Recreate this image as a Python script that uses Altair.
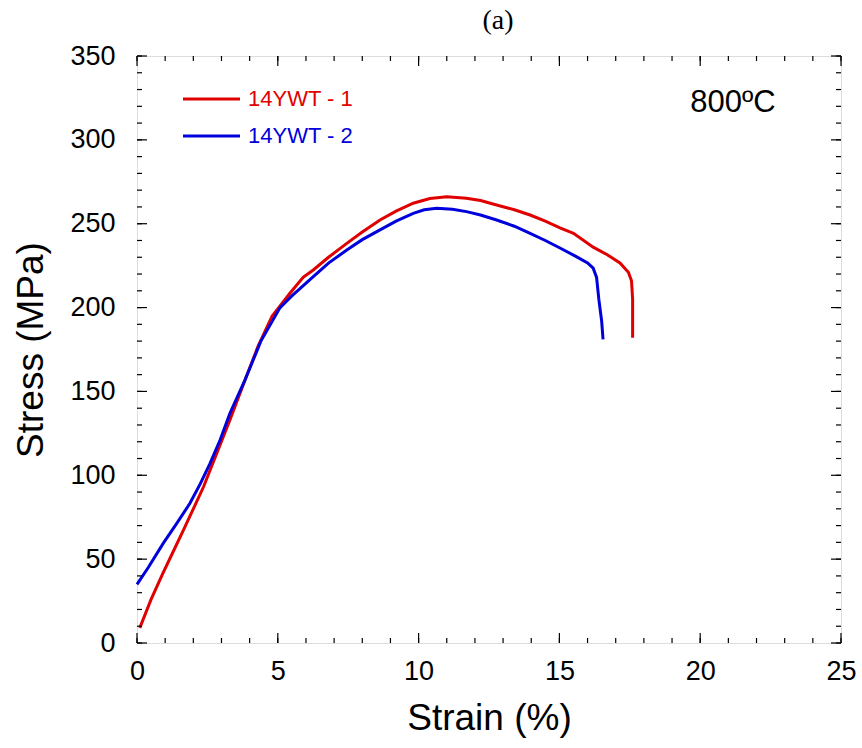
import altair as alt
import pandas as pd

# ---------------- data ----------------
series_names = ["14YWT - 1", "14YWT - 2"]
series_colors = ["#e00000", "#0000dc"]

red_strain = [0.10, 0.50, 0.93, 1.30, 1.64, 2.00, 2.36, 2.83, 3.30, 3.84, 4.30, 4.80,
              5.43, 5.90, 6.26, 6.80, 7.45, 8.00, 8.63, 9.20, 9.81, 10.40, 11.00,
              11.70, 12.20, 12.77, 13.40, 13.96, 14.50, 15.02, 15.50, 16.20, 16.70,
              17.15, 17.45, 17.56, 17.60, 17.60]
red_stress = [9, 26, 42, 55, 67, 80, 93, 113, 133, 157, 177, 195,
              208.5, 218, 222.4, 230, 238.3, 245, 252.2, 257.5, 262.2, 265, 266.1,
              265.2, 263.8, 261.2, 258.3, 255.2, 251.5, 247.5, 244.3, 236, 231.5,
              226.6, 221, 216, 205, 182]

blue_strain = [0.00, 0.40, 0.93, 1.40, 1.88, 2.25, 2.59, 2.95, 3.30, 3.84, 4.40, 5.08,
               5.50, 6.26, 6.80, 7.45, 8.00, 8.63, 9.20, 9.81, 10.20, 10.64, 11.20,
               11.70, 12.20, 12.77, 13.40, 13.96, 14.50, 15.02, 15.60, 16.00, 16.20,
               16.32, 16.40, 16.50, 16.55]
blue_stress = [35, 45, 59.4, 71, 83.3, 95, 107, 121, 137, 157, 180, 200,
               207, 218.4, 226.5, 234.3, 240.5, 246.3, 251.5, 256.2, 258.3, 259.2, 258.6,
               257.2, 255.2, 252.2, 248.5, 244.3, 240, 235.5, 230.4, 226.6, 223.5,
               218, 205, 192, 181]

x_major = [0, 5, 10, 15, 20, 25]
y_major = [0, 50, 100, 150, 200, 250, 300, 350]
x_minor = list(range(0, 26))
y_minor = list(range(0, 351, 10))

x_title = "Strain (%)"
y_title = "Stress (MPa)"
panel_label = "(a)"
temp_label = "800ºC"

rows = []
for i, (sx, sy) in enumerate(zip(red_strain, red_stress)):
    rows.append({"series": series_names[0], "strain": sx, "stress": sy, "idx": i})
for i, (sx, sy) in enumerate(zip(blue_strain, blue_stress)):
    rows.append({"series": series_names[1], "strain": sx, "stress": sy, "idx": i})
df = pd.DataFrame(rows)

FONT = "Liberation Sans"
W, H = 704, 587
MAJOR, MINOR = 10, 5

xs = alt.Scale(domain=[0, 25], nice=False, zero=False)
ys = alt.Scale(domain=[0, 350], nice=False, zero=False)

x_main_axis = alt.Axis(orient="bottom", values=x_major, ticks=False,
                       domain=False, grid=False,
                       labelFont=FONT, labelFontSize=27, labelColor="black",
                       labelPadding=15, labelFlush=False, labelOverlap=False,
                       title=x_title, titleFont=FONT, titleFontSize=37,
                       titleFontWeight="normal", titleColor="black", titlePadding=16)
y_main_axis = alt.Axis(orient="left", values=y_major, ticks=False,
                       domain=False, grid=False,
                       labelFont=FONT, labelFontSize=27, labelColor="black",
                       labelPadding=22, labelFlush=False, labelOverlap=False,
                       title=y_title, titleFont=FONT, titleFontSize=37,
                       titleFontWeight="normal", titleColor="black", titlePadding=19)

lines = alt.Chart(df).mark_line(strokeWidth=3).encode(
    x=alt.X("strain:Q", scale=xs, axis=x_main_axis),
    y=alt.Y("stress:Q", scale=ys, axis=y_main_axis),
    color=alt.Color("series:N", scale=alt.Scale(domain=series_names, range=series_colors),
                    legend=None),
    order="idx:Q",
)


# inward ticks on all four sides, placed through the scales
def x_ticks(values, length):
    tdf = pd.DataFrame({"v": values})
    base = alt.Chart(tdf).mark_rule(color="black", strokeWidth=1.2)
    xenc = alt.X("v:Q", scale=xs, axis=None)
    bottom = base.encode(x=xenc, y=alt.value(H), y2=alt.value(H - length))
    top = base.encode(x=xenc, y=alt.value(0), y2=alt.value(length))
    return [bottom, top]


def y_ticks(values, length):
    tdf = pd.DataFrame({"v": values})
    base = alt.Chart(tdf).mark_rule(color="black", strokeWidth=1.2)
    yenc = alt.Y("v:Q", scale=ys, axis=None)
    left = base.encode(y=yenc, x=alt.value(0), x2=alt.value(length))
    right = base.encode(y=yenc, x=alt.value(W), x2=alt.value(W - length))
    return [left, right]


tick_layers = (x_ticks(x_minor, MINOR) + x_ticks(x_major, MAJOR)
               + y_ticks(y_minor, MINOR) + y_ticks(y_major, MAJOR))

# manual legend
legend_layers = []
for name, col, ypix in zip(series_names, series_colors, [43, 80]):
    ldf = pd.DataFrame({"series": [name]})
    legend_layers.append(
        alt.Chart(ldf).mark_rule(strokeWidth=3, color=col).encode(
            x=alt.value(46), x2=alt.value(103), y=alt.value(ypix))
    )
    legend_layers.append(
        alt.Chart(ldf).mark_text(align="left", baseline="middle", font=FONT,
                                 fontSize=22, color=col).encode(
            x=alt.value(111), y=alt.value(ypix), text="series:N")
    )

temp_text = alt.Chart(pd.DataFrame({"t": [temp_label]})).mark_text(
    align="center", baseline="middle", font=FONT, fontSize=31, color="black"
).encode(x=alt.value(596), y=alt.value(47), text="t:N")

title_text = alt.Chart(pd.DataFrame({"t": [panel_label]})).mark_text(
    align="center", baseline="middle", font="Liberation Serif", fontSize=28,
    color="black"
).encode(x=alt.value(361), y=alt.value(-35), text="t:N")

chart = alt.layer(
    lines, *tick_layers, *legend_layers, temp_text, title_text
).resolve_axis(x="independent", y="independent").properties(
    width=W, height=H,
    autosize=alt.AutoSizeParams(type="none"),
    padding={"left": 137, "top": 56, "right": 21, "bottom": 105},
).configure_view(stroke="black", strokeWidth=1.5).configure(background="white")

chart.save("out.html", embed_options={"renderer": "svg", "actions": False})
